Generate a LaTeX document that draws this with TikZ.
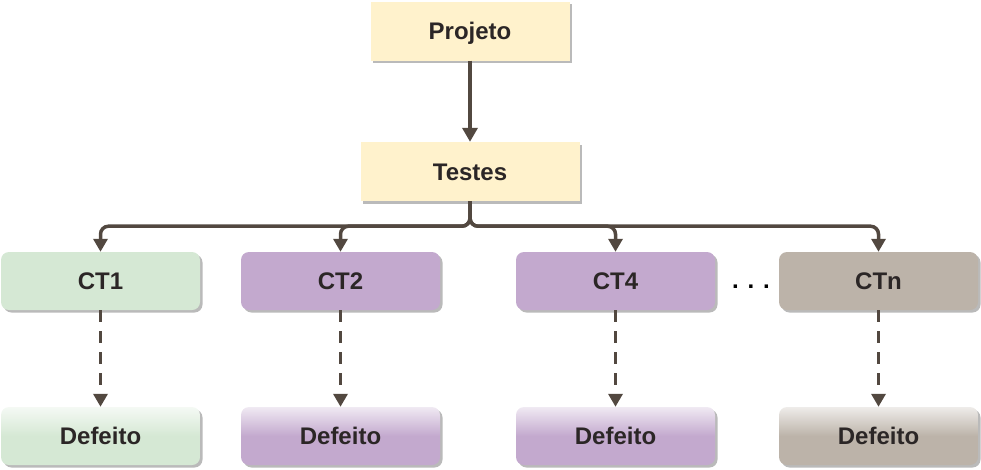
\documentclass[tikz,border=0pt]{standalone}
\usepackage{fontspec}
\setmainfont{Liberation Sans}
\usetikzlibrary{arrows.meta,shadows}
\definecolor{lineC}{HTML}{524840}
\definecolor{txtC}{HTML}{2B2626}
\definecolor{yel}{HTML}{FFF2CC}
\definecolor{grn}{HTML}{D5E8D4}
\definecolor{pur}{HTML}{C3A9CE}
\definecolor{tan}{HTML}{BCB3A9}
\tikzset{
  base/.style={minimum width=199pt, minimum height=58pt, inner sep=0pt, text=txtC,
    font=\fontsize{24}{26}\selectfont\bfseries, text height=17.2pt, text depth=0pt,
    drop shadow={shadow xshift=2.5pt, shadow yshift=-2.5pt, fill=black!45, opacity=0.6}},
  topbox/.style={base, fill=yel, minimum height=59pt},
  ctbox/.style={base, rounded corners=8pt, fill=#1},
  defbox/.style={base, rounded corners=8pt, top color=#1!25!white, bottom color=#1, middle color=#1},
  solidarr/.style={draw=lineC, line width=3.5pt, -{Triangle[width=15pt,length=14pt]}},
  busarr/.style={draw=lineC, line width=3.5pt, -{Triangle[width=14pt,length=13pt]}, rounded corners=8pt},
  dasharr/.style={draw=lineC, line width=3.5pt, dash pattern=on 12pt off 9pt, -{Triangle[width=14pt,length=13pt]}}
}
\begin{document}
\begin{tikzpicture}[x=1pt,y=-1pt]
\useasboundingbox (0,0) rectangle (981,469);
\node[topbox] (proj) at (470,31) {Projeto};
\node[topbox, minimum width=219pt] (test) at (470,171.5) {Testes};
\node[ctbox=grn] (ct1) at (100.5,281) {CT1};
\node[ctbox=pur] (ct2) at (340.5,281) {CT2};
\node[ctbox=pur] (ct4) at (615.5,281) {CT4};
\node[ctbox=tan] (ctn) at (878.5,281) {CTn};
\node[text=black, font=\fontsize{24}{26}\selectfont\bfseries, inner sep=0pt, text height=4pt, text depth=0pt] (dots) at (751,286) {. . .};
\node[defbox=grn] (d1) at (100.5,436) {Defeito};
\node[defbox=pur] (d2) at (340.5,436) {Defeito};
\node[defbox=pur] (d4) at (615.5,436) {Defeito};
\node[defbox=tan] (dn) at (878.5,436) {Defeito};
\draw[solidarr] (proj.south) -- (test.north);
\foreach \c in {ct1,ct2,ct4,ctn}{
  \draw[busarr] (test.south) -- ++(0,25) -| (\c.north);
}
\draw[dasharr] (ct1.south) -- (d1.north);
\draw[dasharr] (ct2.south) -- (d2.north);
\draw[dasharr] (ct4.south) -- (d4.north);
\draw[dasharr] (ctn.south) -- (dn.north);
\end{tikzpicture}
\end{document}
